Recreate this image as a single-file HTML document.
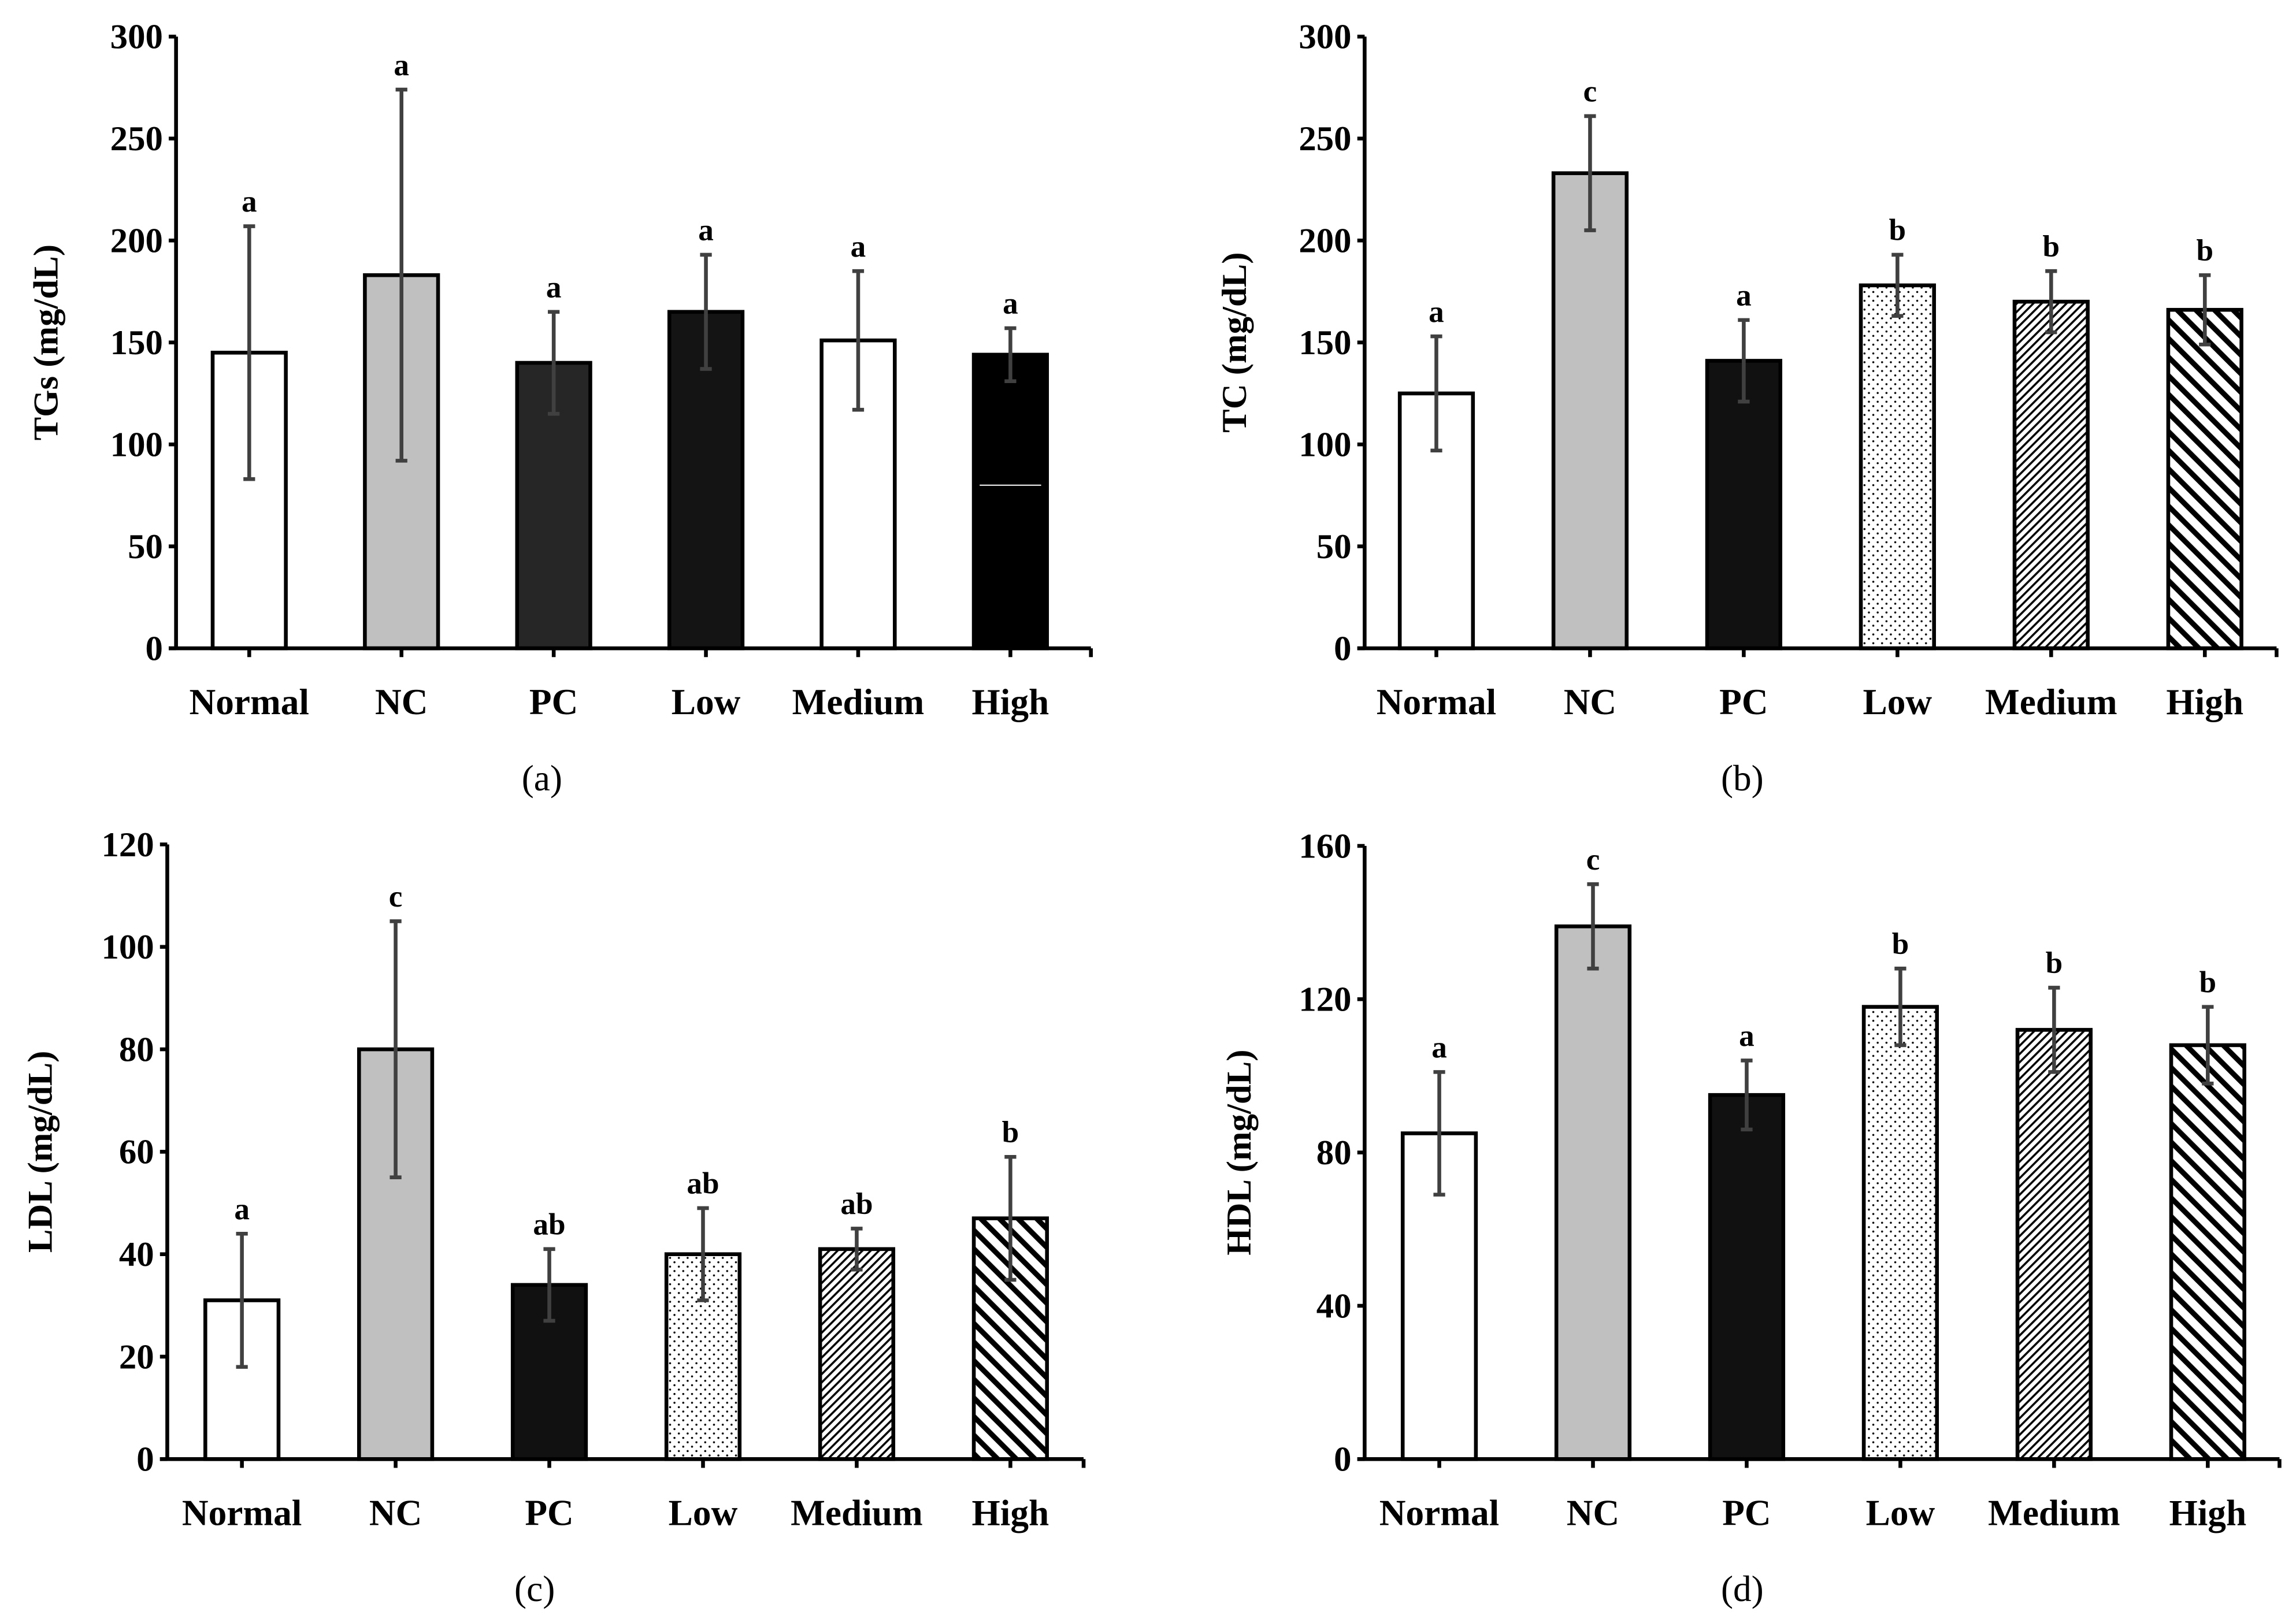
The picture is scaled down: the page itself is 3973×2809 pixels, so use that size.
<!DOCTYPE html>
<html><head><meta charset="utf-8"><style>
html,body{margin:0;padding:0;background:#fff;}
svg{display:block;}
text{font-family:"Liberation Serif",serif;font-weight:bold;fill:#000;}
</style></head><body>
<svg id="fig" width="3973" height="2809" viewBox="0 0 1568 1109" xmlns="http://www.w3.org/2000/svg">
<defs>
<pattern id="dots" width="6" height="6" patternUnits="userSpaceOnUse"><rect width="6" height="6" fill="#fff"/><circle cx="1.5" cy="1.5" r="0.7" fill="#000"/><circle cx="4.5" cy="4.5" r="0.7" fill="#000"/></pattern>
<pattern id="fine" width="4" height="4" patternUnits="userSpaceOnUse" patternTransform="rotate(45)"><rect width="4" height="4" fill="#fff"/><rect width="1.4" height="4" fill="#000"/></pattern>
<pattern id="wide" width="9" height="9" patternUnits="userSpaceOnUse" patternTransform="rotate(-45)"><rect width="9" height="9" fill="#fff"/><rect width="3.6" height="9" fill="#000"/></pattern>
</defs>
</svg>
<script>
const categories = ["Normal","NC","PC","Low","Medium","High"];
const tgValues = [145,183,140,165,151,144];
const tgErrors = [62,91,25,28,34,13];
const tgLetters = ["a","a","a","a","a","a"];
const tgTicks = [0,50,100,150,200,250,300];
const tcValues = [125,233,141,178,170,166];
const tcErrors = [28,28,20,15,15,17];
const tcLetters = ["a","c","a","b","b","b"];
const tcTicks = [0,50,100,150,200,250,300];
const ldlValues = [31,80,34,40,41,47];
const ldlErrors = [13,25,7,9,4,12];
const ldlLetters = ["a","c","ab","ab","ab","b"];
const ldlTicks = [0,20,40,60,80,100,120];
const hdlValues = [85,139,95,118,112,108];
const hdlErrors = [16,11,9,10,11,10];
const hdlLetters = ["a","c","a","b","b","b"];
const hdlTicks = [0,40,80,120,160];

const NS="http://www.w3.org/2000/svg";
const svg=document.getElementById('fig');
function mk(tag,attrs,parent){const e=document.createElementNS(NS,tag);for(const k in attrs)e.setAttribute(k,attrs[k]);(parent||svg).appendChild(e);return e;}

const panels=[
 {id:"a",title:"TGs (mg/dL)",vals:tgValues,errs:tgErrors,lets:tgLetters,ticks:tgTicks,x0:120,y0:443,yTop:25,xEnd:745,c0:170,step:104,titleX:30,fills:["#fff","#c0c0c0","#262626","#141414","#fff","#000"]},
 {id:"b",title:"TC (mg/dL)",vals:tcValues,errs:tcErrors,lets:tcLetters,ticks:tcTicks,x0:932,y0:443,yTop:25,xEnd:1555,c0:981,step:105,titleX:842,fills:["#fff","#c0c0c0","#111","url(#dots)","url(#fine)","url(#wide)"]},
 {id:"c",title:"LDL (mg/dL)",vals:ldlValues,errs:ldlErrors,lets:ldlLetters,ticks:ldlTicks,x0:114,y0:997,yTop:577,xEnd:740,c0:165,step:105,titleX:26,fills:["#fff","#c0c0c0","#111","url(#dots)","url(#fine)","url(#wide)"]},
 {id:"d",title:"HDL (mg/dL)",vals:hdlValues,errs:hdlErrors,lets:hdlLetters,ticks:hdlTicks,x0:932,y0:997,yTop:578,xEnd:1557,c0:983,step:105,titleX:845,fills:["#fff","#c0c0c0","#111","url(#dots)","url(#fine)","url(#wide)"]}
];

panels.forEach(p=>{
 const g=mk('g',{});
 
 
 const max=p.ticks[p.ticks.length-1];
 const y=v=>p.y0-(v/max)*(p.y0-p.yTop);
 const x=i=>p.c0+i*p.step;
 const bw=50;
 p.vals.forEach((v,i)=>{
  const r=mk('rect',{x:x(i)-bw/2,y:y(v),width:bw,height:p.y0-y(v),fill:p.fills[i],stroke:"#000","stroke-width":2.6},g);
  
  
  if(p.id==="a"&&i===5){mk('line',{x1:x(i)-bw/2+4,x2:x(i)+bw/2-4,y1:y(80),y2:y(80),stroke:"#fff","stroke-width":0.8},g);}
 });
 p.vals.forEach((v,i)=>{
  const e=p.errs[i];
  const eg=mk('g',{stroke:"#404040","stroke-width":2.6},g);
  
  
  mk('line',{x1:x(i),x2:x(i),y1:y(v+e),y2:y(v-e)},eg);
  mk('line',{x1:x(i)-4,x2:x(i)+4,y1:y(v+e),y2:y(v+e)},eg);
  mk('line',{x1:x(i)-4,x2:x(i)+4,y1:y(v-e),y2:y(v-e)},eg);
  const t=mk('text',{x:x(i),y:y(v+e)-10,"text-anchor":"middle","font-size":21},g);
  t.textContent=p.lets[i];
  
  
 });
 const ax=mk('g',{stroke:"#000","stroke-width":2.6},g);
 
 
 mk('line',{x1:p.x0,x2:p.x0,y1:p.yTop,y2:p.y0+1},ax);
 mk('line',{x1:p.x0-5,x2:p.xEnd,y1:p.y0,y2:p.y0},ax);
 mk('line',{x1:p.xEnd,x2:p.xEnd,y1:p.y0,y2:p.y0+6},ax);
 p.ticks.forEach(tv=>{
  mk('line',{x1:p.x0-5,x2:p.x0,y1:y(tv),y2:y(tv)},ax);
  const t=mk('text',{x:p.x0-9,y:y(tv)+8,"text-anchor":"end","font-size":24},g);
  t.textContent=tv;
  
  
 });
 categories.forEach((c,i)=>{
  mk('line',{x1:x(i),x2:x(i),y1:p.y0,y2:p.y0+6},ax);
  const t=mk('text',{x:x(i),y:p.y0+45,"text-anchor":"middle","font-size":25},g);
  t.textContent=c;
  
  
 });
 const yt=mk('text',{x:0,y:0,"text-anchor":"middle","font-size":24,transform:`translate(${p.titleX+9},${(p.y0+p.yTop)/2}) rotate(-90)`},g);
 yt.textContent=p.title;
 
 
 const cap=mk('text',{x:(p.id==="a"||p.id==="c")?(p.id==="a"?370:365):1190,y:p.y0+97,"text-anchor":"middle","font-size":25,style:"font-weight:normal"},g);
 cap.textContent="("+p.id+")";
 
 
});
</script>
</body></html>
